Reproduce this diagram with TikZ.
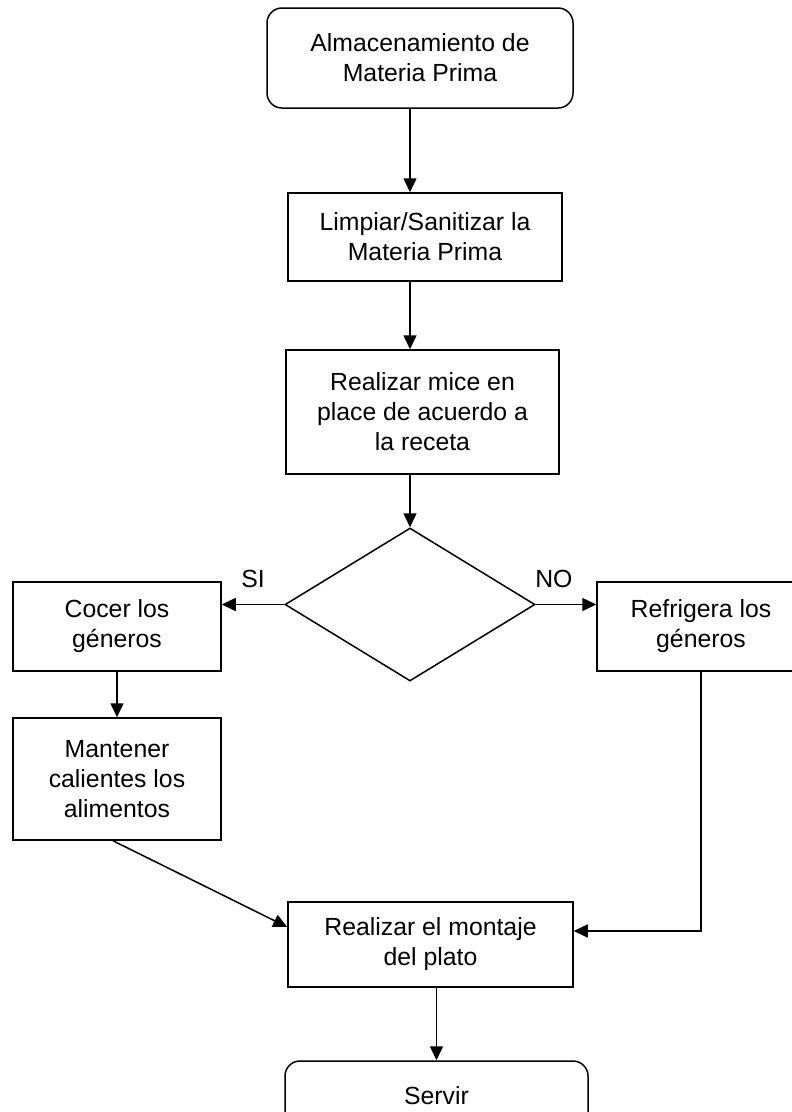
\documentclass[tikz,border=0pt]{standalone}
\usepackage{fontspec}
\setmainfont{Liberation Sans}
\usetikzlibrary{arrows.meta, shapes.geometric, calc}

\begin{document}
\begin{tikzpicture}[x=1pt, y=-1pt,
  font=\fontsize{24.8}{30}\selectfont,
  line width=1.5pt,
  caja/.style={rectangle, draw, align=center, inner sep=0pt},
  cajared/.style={caja, rounded corners=15pt},
  flecha/.style={-{Triangle[width=13pt,length=14pt]}}]
\useasboundingbox (0,0) rectangle (792,1112);

% pasos del proceso
\node[cajared, minimum width=306pt, minimum height=100pt] (alm) at (420,58)
  {Almacenamiento de\\Materia Prima};
\node[caja, minimum width=274pt, minimum height=88pt] (limp) at (425,237)
  {Limpiar/Sanitizar la\\Materia Prima};
\node[caja, minimum width=273pt, minimum height=124pt] (mice) at (422.5,412)
  {Realizar mice en\\place de acuerdo a\\la receta};
\node[diamond, draw, inner sep=0pt, minimum width=250pt, minimum height=153pt]
  (dec) at (410,604.5) {};
\node[caja, minimum width=208pt, minimum height=89pt] (cocer) at (117,626.5)
  {Cocer los\\géneros};
\node[caja, minimum width=208pt, minimum height=89pt] (refr) at (701,626.5)
  {Refrigera los\\géneros};
\node[caja, minimum width=208pt, minimum height=122pt] (mant) at (117,779)
  {Mantener\\calientes los\\alimentos};
\node[caja, minimum width=285pt, minimum height=85pt] (mont) at (430.5,944.5)
  {Realizar el montaje\\del plato};
\node[cajared, minimum width=303pt, minimum height=70pt] (serv) at (436.5,1096)
  {Servir};

% flechas
\draw[flecha] (alm.south -| dec.north) -- (limp.north -| dec.north);
\draw[flecha] (limp.south -| dec.north) -- (mice.north -| dec.north);
\draw[flecha] (mice.south -| dec.north) -- (dec.north);
\draw[flecha] (dec.west) -- (dec.west -| cocer.east)
  node[midway, above=13pt] (si) {SI};
\draw[flecha] (dec.east) -- (dec.east -| refr.west)
  node[pos=0.3, above=13pt] (no) {NO};
\draw[flecha] (cocer.south) -- (mant.north);
\draw[flecha] ([xshift=-4pt]mant.south) -- ([yshift=17.5pt]mont.west);
\draw[flecha] (refr.south) |- ([yshift=13.5pt]mont.east);
\draw[flecha] (mont.south -| serv.north) -- (serv.north);
\end{tikzpicture}
\end{document}
